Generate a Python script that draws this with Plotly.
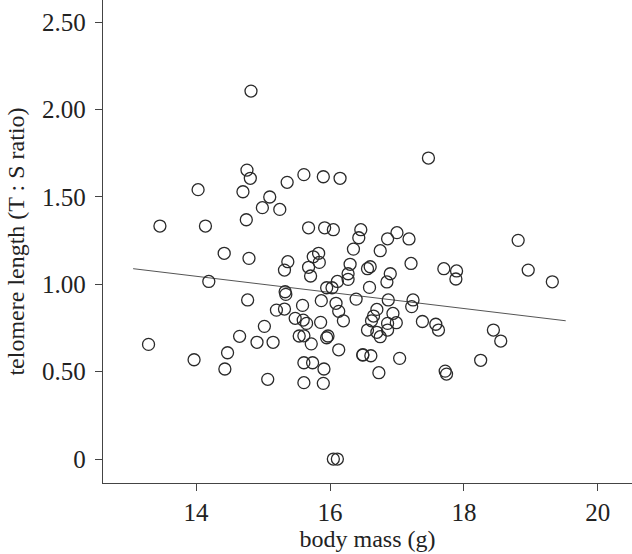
import plotly.graph_objects as go

body_mass = [
    14.82, 14.76, 14.81, 14.03, 14.70, 15.36, 15.61, 15.90, 16.15, 15.10,
    14.99, 15.25, 13.46, 14.14, 14.75, 15.68, 15.92, 16.05, 16.46, 16.43,
    16.35, 14.42, 14.79, 15.37, 15.83, 15.75, 17.47, 16.86, 17.00, 17.18,
    16.75, 18.81, 17.21, 15.32, 15.84, 15.68, 15.71, 16.30, 16.27, 16.27,
    16.60, 16.56, 16.11, 16.03, 15.95, 14.19, 14.77, 15.33, 15.34, 15.87,
    15.59, 16.09, 16.13, 16.20, 16.39, 15.20, 15.32, 15.48, 15.60, 15.65,
    15.86, 15.02, 14.65, 14.91, 15.15, 15.54, 15.61, 15.72, 15.97, 15.95,
    16.13, 16.49, 13.29, 13.97, 14.47, 14.43, 15.07, 15.61, 15.74, 15.91,
    15.61, 15.90, 16.05, 16.11, 16.90, 16.85, 16.59, 17.70, 17.89, 17.88,
    18.96, 19.32, 16.87, 17.24, 17.22, 16.70, 16.94, 16.62, 16.65, 16.86,
    16.99, 16.56, 16.70, 16.75, 16.86, 17.38, 17.58, 17.62, 18.44, 18.55,
    16.49, 16.61, 17.04, 18.25, 16.73, 17.72, 17.74,
]
telomere = [
    2.105, 1.653, 1.606, 1.541, 1.529, 1.583, 1.627, 1.615, 1.606, 1.499,
    1.438, 1.428, 1.333, 1.333, 1.369, 1.323, 1.323, 1.312, 1.312, 1.266,
    1.201, 1.177, 1.148, 1.129, 1.177, 1.157, 1.722, 1.260, 1.295, 1.259,
    1.192, 1.251, 1.119, 1.081, 1.125, 1.097, 1.047, 1.114, 1.060, 1.028,
    1.100, 1.089, 1.016, 0.980, 0.980, 1.016, 0.910, 0.957, 0.942, 0.906,
    0.879, 0.891, 0.845, 0.791, 0.915, 0.852, 0.858, 0.805, 0.795, 0.776,
    0.782, 0.759, 0.702, 0.668, 0.668, 0.704, 0.705, 0.659, 0.704, 0.694,
    0.625, 0.597, 0.656, 0.568, 0.608, 0.515, 0.456, 0.551, 0.551, 0.515,
    0.437, 0.433, 0.0, 0.0, 1.060, 1.013, 0.982, 1.089, 1.076, 1.030,
    1.081, 1.014, 0.910, 0.910, 0.872, 0.856, 0.833, 0.791, 0.818, 0.776,
    0.780, 0.738, 0.725, 0.700, 0.738, 0.787, 0.771, 0.738, 0.738, 0.675,
    0.595, 0.591, 0.576, 0.565, 0.494, 0.503, 0.486,
]

fit_x = [13.06, 19.52]
fit_y = [1.089, 0.791]

x_ticks = [14, 16, 18, 20]
x_ticktext = ["14", "16", "18", "20"]
y_ticks = [0, 0.5, 1.0, 1.5, 2.0, 2.5]
y_ticktext = ["0", "0.50", "1.00", "1.50", "2.00", "2.50"]

font_family = "Liberation Serif, Times New Roman, serif"
tick_font = dict(family=font_family, size=25, color="#222222")
title_font = dict(family=font_family, size=24, color="#222222")

fig = go.Figure()
fig.add_trace(go.Scatter(
    x=fit_x, y=fit_y, mode="lines",
    line=dict(color="#555555", width=1),
    hoverinfo="skip", showlegend=False,
))
fig.add_trace(go.Scatter(
    x=body_mass, y=telomere, mode="markers",
    marker=dict(symbol="circle-open", size=12, color="#2a2a2a",
                line=dict(width=1.3, color="#2a2a2a")),
    showlegend=False,
))

fig.update_layout(
    width=632, height=554,
    margin=dict(l=103, r=0, t=0, b=71, autoexpand=False),
    plot_bgcolor="white", paper_bgcolor="white",
    font=dict(family=font_family, size=24, color="#222222"),
    xaxis=dict(
        range=[12.61, 20.51],
        tickvals=x_ticks, ticktext=x_ticktext,
        showgrid=False, zeroline=False,
        showline=True, linecolor="#444444", linewidth=1.3,
        ticks="outside", ticklen=7, tickwidth=1.3, tickcolor="#444444",
        tickfont=tick_font, automargin=False,
        title=dict(text="body mass (g)", standoff=0, font=title_font),
    ),
    yaxis=dict(
        range=[-0.137, 2.626],
        tickvals=y_ticks, ticktext=y_ticktext,
        showgrid=False, zeroline=False,
        showline=True, linecolor="#444444", linewidth=1.3,
        ticks="outside", ticklen=7, tickwidth=1.3, tickcolor="#444444",
        tickfont=tick_font, ticklabelstandoff=4, automargin=False,
        title=dict(text="telomere length (T : S ratio)", standoff=10, font=title_font),
    ),
)

fig.write_html("out.html", config={"displayModeBar": False},
               post_script="document.body.style.margin='0px';")
